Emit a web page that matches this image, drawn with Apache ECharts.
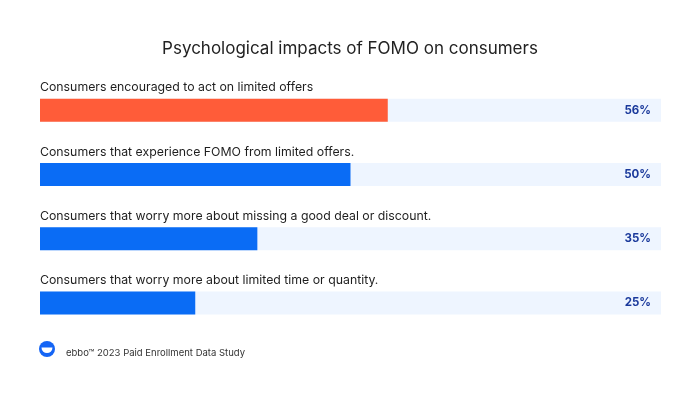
<!DOCTYPE html>
<html>
<head>
<meta charset="utf-8">
<script src="https://cdn.jsdelivr.net/npm/echarts@6/dist/echarts.min.js"></script>
<style>
  html, body { margin: 0; padding: 0; background: #fff; }
  #chart { width: 700px; height: 396px; }
</style>
</head>
<body>
<div id="chart"></div>
<script>
// chart data
var categories = [
  "Consumers encouraged to act on limited offers",
  "Consumers that experience FOMO from limited offers.",
  "Consumers that worry more about missing a good deal or discount.",
  "Consumers that worry more about limited time or quantity."
];
var values = [56, 50, 35, 25];
var barColors = ["#ff5c39", "#0a6cf5", "#0a6cf5", "#0a6cf5"];
var trackMax = 100;

var font = "Inter, 'Noto Sans', sans-serif";
var chart = echarts.init(document.getElementById("chart"));

var option = {
  backgroundColor: "#ffffff",
  title: [
    {
      text: "Psychological impacts of FOMO on consumers",
      left: "center",
      top: 35,
      textStyle: { fontFamily: font, fontSize: 17, fontWeight: "normal", color: "#222" }
    },
    {
      text: "ebbo\u2122 2023 Paid Enrollment Data Study",
      left: 61,
      top: 343,
      textStyle: { fontFamily: font, fontSize: 9.5, fontWeight: "normal", color: "#333" }
    }
  ],
  grid: { left: 40, right: 39, top: 78, bottom: 61 },
  xAxis: { type: "value", min: 0, max: trackMax, show: false },
  yAxis: {
    type: "category",
    data: categories,
    inverse: true,
    show: false
  },
  series: [
    {
      type: "bar",
      barWidth: 23,
      barGap: "-100%",
      silent: true,
      data: categories.map(function () { return trackMax; }),
      itemStyle: { color: "#eef5ff" },
      label: {
        show: true,
        position: "insideRight",
        distance: 10,
        formatter: function (p) { return values[p.dataIndex] + "%"; },
        fontFamily: font,
        fontSize: 11.5,
        fontWeight: "bold",
        color: "#1b3a9c"
      }
    },
    {
      type: "bar",
      barWidth: 23,
      barGap: "-100%",
      data: values.map(function (v, i) {
        return { value: v, itemStyle: { color: barColors[i] } };
      })
    },
    {
      type: "bar",
      barWidth: 23,
      barGap: "-100%",
      silent: true,
      data: categories.map(function () { return trackMax; }),
      itemStyle: { color: "rgba(0,0,0,0)" },
      label: {
        show: true,
        position: [0, -5],
        align: "left",
        verticalAlign: "bottom",
        formatter: function (p) { return categories[p.dataIndex]; },
        fontFamily: font,
        fontSize: 12.3,
        color: "#1e1e1e"
      }
    }
  ],
  graphic: [
    {
      type: "group",
      left: 39,
      top: 341,
      children: [
        { type: "circle", shape: { cx: 8, cy: 8, r: 8 }, style: { fill: "#1565f5" } },
        { type: "sector", shape: { cx: 8, cy: 6.5, r: 5.5, r0: 0, startAngle: 0, endAngle: Math.PI }, style: { fill: "#ffffff" } }
      ]
    }
  ]
};

chart.setOption(option);
window.addEventListener("resize", function () { chart.resize(); });
</script>
</body>
</html>
